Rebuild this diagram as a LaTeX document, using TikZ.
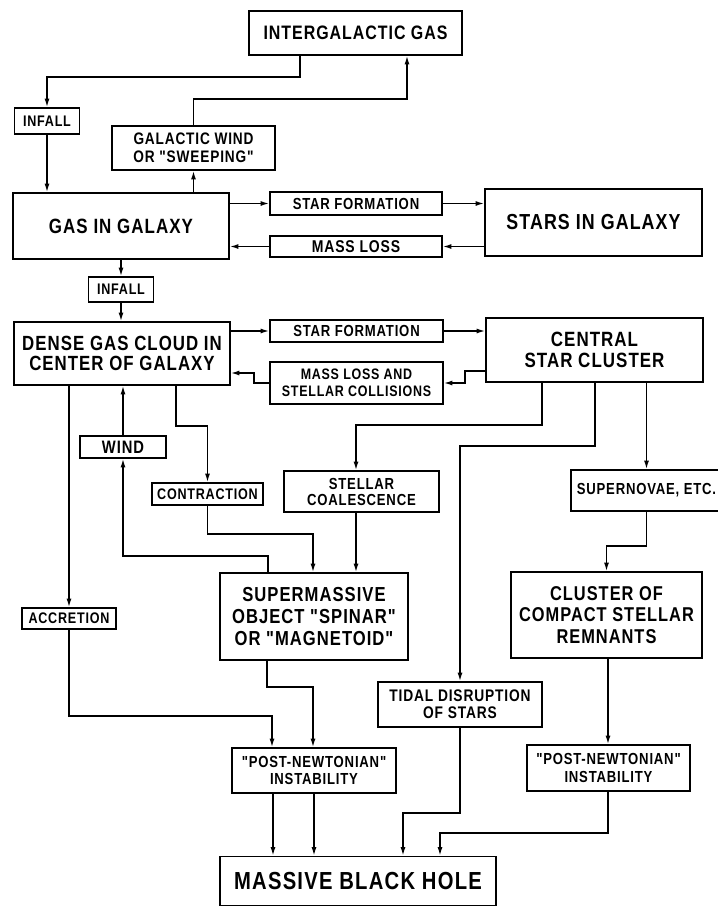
\documentclass[tikz,border=0pt]{standalone}
\usepackage{fontspec}
\setmainfont{Liberation Sans Bold}[FakeStretch=0.82, LetterSpace=5, Ligatures=TeXOff]
\usetikzlibrary{arrows.meta}

\tikzset{
  box/.style={draw, line width=1.2pt, inner sep=0pt, align=center},
  wh/.style 2 args={minimum width=#1*0.75pt, minimum height=#2*0.75pt},
  lbl/.style={box, font=\fontsize{11.5}{12.5}\selectfont},
  mid/.style={box, font=\fontsize{15}{16}\selectfont},
  big/.style={box, font=\fontsize{15.5}{17}\selectfont},
  arr/.style={line width=1.1pt, -{Latex[length=6.5pt,width=3.8pt]}},
}

\begin{document}
\begin{tikzpicture}[x=0.75pt,y=-0.75pt]
                    \fill[white] (0,0) rectangle (718,908);
                    \useasboundingbox (0,0) rectangle (718,908);

                    % outer gas and the galaxy
                    \node[mid, wh={213}{44}, font=\fontsize{14.6}{15}\selectfont] (ig) at (355.5,33) {INTERGALACTIC GAS};
                    \node[lbl, wh={65}{26}] (inf1) at (47,121) {INFALL};
                    \node[lbl, wh={163}{44}, font=\fontsize{12.5}{13.5}\selectfont] (gw) at (193.5,148) {GALACTIC WIND\\OR "SWEEPING"};
                    \node[big, wh={216}{66}] (gig) at (121,226) {GAS IN GALAXY};
                    \node[lbl, wh={172}{23}, font=\fontsize{12}{13}\selectfont] (sf1) at (356,203.5) {STAR FORMATION};
                    \node[lbl, wh={172}{21}, font=\fontsize{12.8}{13}\selectfont] (ml1) at (356,246.5) {MASS LOSS};
                    \node[big, wh={217}{67}, font=\fontsize{16.3}{17}\selectfont] (sig) at (593.5,222.5) {STARS IN GALAXY};

                    % the center of the galaxy
                    \node[lbl, wh={65}{25}] (inf2) at (121,289.5) {INFALL};
                    \node[mid, wh={216}{63}, font=\fontsize{15.4}{15.5}\selectfont] (dgc) at (122,353.5) {DENSE GAS CLOUD IN\\CENTER OF GALAXY};
                    \node[lbl, wh={173}{22}, font=\fontsize{12}{13}\selectfont] (sf2) at (356.5,331) {STAR FORMATION};
                    \node[lbl, wh={173}{42}, font=\fontsize{11.4}{12.5}\selectfont] (ml2) at (356.5,383) {MASS LOSS AND\\STELLAR COLLISIONS};
                    \node[mid, wh={217}{64}, font=\fontsize{15.5}{15.8}\selectfont] (csc) at (594.5,350) {CENTRAL\\STAR CLUSTER};

                    % middle steps
                    \node[lbl, wh={86}{22}, font=\fontsize{13.5}{14}\selectfont] (wind) at (123,447) {WIND};
                    \node[lbl, wh={111}{22}] (con) at (207.5,494) {CONTRACTION};
                    \node[lbl, wh={155}{41}, font=\fontsize{12}{12}\selectfont] (sc) at (361.5,491.5) {STELLAR\\COALESCENCE};
                    \node[lbl, wh={151}{41}, font=\fontsize{12}{13}\selectfont] (sn) at (646.5,490.5) {SUPERNOVAE, ETC.};
                    \node[mid, wh={188}{87}, font=\fontsize{15.2}{16.2}\selectfont] (smo) at (314,616.5) {SUPERMASSIVE\\OBJECT "SPINAR"\\OR "MAGNETOID"};
                    \node[mid, wh={191}{86}, font=\fontsize{15}{16}\selectfont] (ccsr) at (606.5,615) {CLUSTER OF\\COMPACT STELLAR\\REMNANTS};
                    \node[lbl, wh={94}{21}] (acc) at (69,618.5) {ACCRETION};
                    \node[lbl, wh={164}{45}, font=\fontsize{12.6}{12.5}\selectfont] (tds) at (460,704.5) {TIDAL DISRUPTION\\OF STARS};
                    \node[lbl, wh={164}{45}, font=\fontsize{12}{13}\selectfont] (pn1) at (314,770.5) {"POST-NEWTONIAN"\\INSTABILITY};
                    \node[lbl, wh={163}{46}, font=\fontsize{12}{13}\selectfont] (pn2) at (608.5,768) {"POST-NEWTONIAN"\\INSTABILITY};

                    % the end
                    \node[big, wh={276}{49}, font=\fontsize{18.5}{19}\selectfont] (mbh) at (358,881) {MASSIVE BLACK HOLE};

                    % infall and wind at the top
                    \draw[arr] (ig.south -| 300,0) -- (300,77) -| (inf1.north);
                    \draw[arr] (inf1.south) -- (inf1.south |- gig.north);
                    \draw[arr] (gig.north -| gw.south) -- (gw.south);
                    \draw[arr] (gw.north) |- (407,99) -- (ig.south -| 407,0);

                    % gas and stars in the galaxy
                    \draw[arr] (gig.east |- sf1) -- (sf1.west);
                    \draw[arr] (sf1.east) -- (sf1.east -| sig.west);
                    \draw[arr] (sig.west |- ml1) -- (ml1.east);
                    \draw[arr] (ml1.west) -- (ml1.west -| gig.east);
                    \draw[arr] (gig.south -| inf2) -- (inf2.north);
                    \draw[arr] (inf2.south) -- (inf2.south |- dgc.north);

                    % gas and stars in the center
                    \draw[arr] (dgc.east |- sf2) -- (sf2.west);
                    \draw[arr] (sf2.east) -- (sf2.east -| csc.west);
                    \draw[arr] (csc.west |- 0,371) -| (465,383) -- (ml2.east);
                    \draw[arr] (ml2.west) -| (254,373) -- (dgc.east |- 0,373);

                    % out of the dense gas cloud
                    \draw[arr] (dgc.south -| acc) -- (acc.north);
                    \draw[arr] (acc.south) |- (272,716) -- (pn1.north -| 272,0);
                    \draw[arr] (wind.north) -- (wind.north |- dgc.south);
                    \draw[arr] (smo.north -| 268,0) -- (268,556) -| (wind.south);
                    \draw[arr] (dgc.south -| 176,0) -- (176,426) -| (con.north);
                    \draw[arr] (con.south) |- (313,534) -- (smo.north -| 313,0);

                    % out of the star cluster
                    \draw[arr] (csc.south -| 542,0) |- (356,425) -- (sc.north -| 356,0);
                    \draw[arr] (sc.south -| 356,0) -- (smo.north -| 356,0);
                    \draw[arr] (csc.south -| 595,0) |- (460,446) -- (tds.north);
                    \draw[arr] (csc.south -| sn) -- (sn.north);
                    \draw[arr] (sn.south) -- (sn.south |- 0,546) -| (ccsr.north);

                    % down to the black hole
                    \draw[arr] (smo.south -| 267,0) |- (313,687) -- (pn1.north -| 313,0);
                    \draw[arr] (pn1.south -| 273,0) -- (mbh.north -| 273,0);
                    \draw[arr] (pn1.south -| 314,0) -- (mbh.north -| 314,0);
                    \draw[arr] (tds.south) |- (403,813) -- (mbh.north -| 403,0);
                    \draw[arr] (ccsr.south -| 608,0) -- (pn2.north -| 608,0);
                    \draw[arr] (pn2.south -| 608,0) |- (440,833) -- (mbh.north -| 440,0);
                \end{tikzpicture}
\end{document}
